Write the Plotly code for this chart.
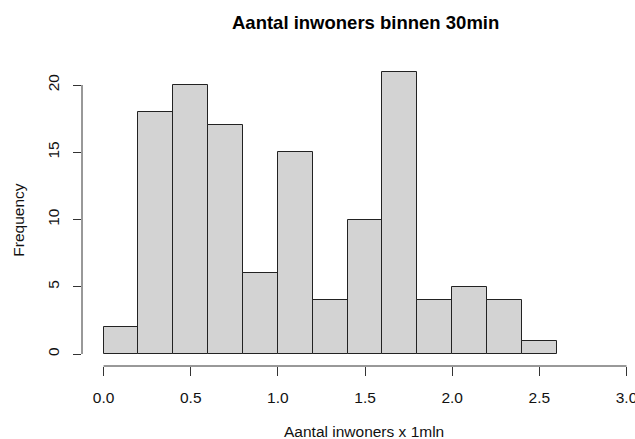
import plotly.graph_objects as go

# Histogram of inhabitants reachable within 30 minutes (millions)
bin_edges = [0.0, 0.2, 0.4, 0.6, 0.8, 1.0, 1.2, 1.4, 1.6, 1.8, 2.0, 2.2, 2.4, 2.6]
counts = [2, 18, 20, 17, 6, 15, 4, 10, 21, 4, 5, 4, 1]
x_ticks = [0.0, 0.5, 1.0, 1.5, 2.0, 2.5, 3.0]
y_ticks = [0, 5, 10, 15, 20]

title_text = "Aantal inwoners binnen 30min"
x_title = "Aantal inwoners x 1mln"
y_title = "Frequency"

centers = [(a + b) / 2 for a, b in zip(bin_edges[:-1], bin_edges[1:])]
widths = [b - a for a, b in zip(bin_edges[:-1], bin_edges[1:])]

W, H = 635, 439
font = "Liberation Sans, Arial, Helvetica, sans-serif"
txt = 15.5

fig = go.Figure(
    go.Bar(
        x=centers,
        y=counts,
        width=widths,
        marker=dict(color="#D3D3D3", line=dict(color="#222222", width=1)),
        hoverinfo="x+y",
    )
)

# plot area geometry (pixels)
left, right = 81.7, 635
top, bottom = 40, 366
x0_px, px_per_x = 103.3, 174.4
y0_px, px_per_y = 354, 13.45

x_range = [(left - x0_px) / px_per_x, (right - x0_px) / px_per_x]
y_range = [(y0_px - bottom) / px_per_y, (y0_px - top) / px_per_y]


def px(xp):
    return (xp - left) / (right - left)


def py(yp):
    return (bottom - yp) / (bottom - top)


fig.update_layout(
    width=W,
    height=H,
    margin=dict(l=left, r=W - right, t=top, b=H - bottom, pad=0),
    paper_bgcolor="white",
    plot_bgcolor="white",
    showlegend=False,
    bargap=0,
    font=dict(family=font, size=txt, color="black"),
    xaxis=dict(
        range=x_range,
        tickvals=x_ticks,
        tickformat=".1f",
        ticks="outside",
        ticklen=9,
        tickcolor="#333333",
        tickwidth=1,
        showgrid=False,
        zeroline=False,
        showline=False,
        automargin=False,
        ticklabeloverflow="allow",
        ticklabelstandoff=8,
        tickfont=dict(size=txt, family=font, color="#111111"),
    ),
    yaxis=dict(
        range=y_range,
        tickvals=y_ticks,
        ticks="outside",
        ticklen=8,
        tickcolor="#333333",
        tickwidth=1,
        tickangle=-90,
        showgrid=False,
        zeroline=False,
        showline=False,
        automargin=False,
        ticklabeloverflow="allow",
        ticklabelstandoff=8,
        tickfont=dict(size=txt, family=font, color="#111111"),
    ),
    shapes=[
        dict(type="line", xref="paper", yref="y", x0=0, x1=0,
             y0=y_ticks[0], y1=y_ticks[-1], line=dict(color="#333333", width=1)),
        dict(type="line", xref="x", yref="paper", x0=x_ticks[0], x1=x_ticks[-1],
             y0=0, y1=0, line=dict(color="#333333", width=1)),
    ],
    annotations=[
        dict(text="<b>" + title_text + "</b>", x=px(365), y=py(22.5),
             xref="paper", yref="paper", xanchor="center", yanchor="middle",
             borderpad=0, showarrow=False,
             font=dict(size=18.5, family=font, color="black")),
        dict(text=x_title, x=px(364.2), y=py(431.5), xref="paper", yref="paper",
             xanchor="center", yanchor="middle", borderpad=0, showarrow=False,
             font=dict(size=txt, family=font, color="#111111")),
        dict(text=y_title, x=px(18.3), y=py(220), xref="paper", yref="paper",
             xanchor="center", yanchor="middle", textangle=-90, borderpad=0,
             showarrow=False, font=dict(size=txt, family=font, color="#111111")),
    ],
)

fig.write_html("out.html")
